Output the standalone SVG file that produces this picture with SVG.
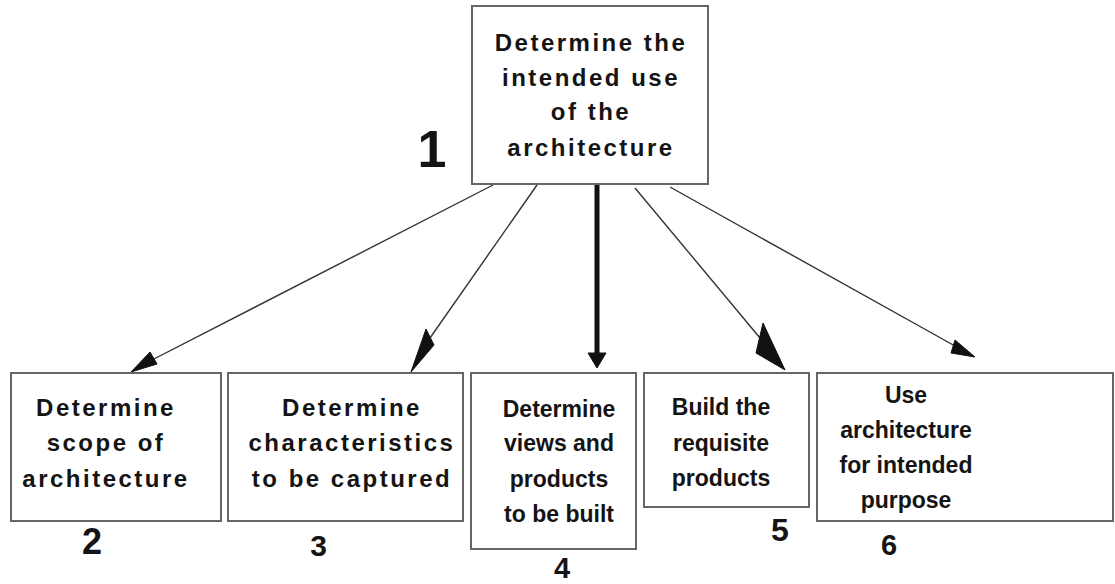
<svg xmlns="http://www.w3.org/2000/svg" width="1115" height="584" viewBox="0 0 1115 584">
  <style>
    .box { fill: #ffffff; stroke: #666666; stroke-width: 2; }
    .t { font-family: "Liberation Sans", Arial, sans-serif; font-weight: bold; font-size: 23px; fill: #141414; text-anchor: middle; }
    .wide { font-size: 24px; letter-spacing: 2.5px; }
    .num { font-family: "Liberation Sans", Arial, sans-serif; font-weight: bold; fill: #141414; text-anchor: middle; }
    .ln { stroke: #333333; stroke-width: 1.4; fill: none; }
    .thick { stroke: #111111; stroke-width: 5; fill: none; }
    .head { fill: #111111; stroke: #111111; stroke-width: 1; stroke-linejoin: round; }
  </style>
  <rect width="1115" height="584" fill="#ffffff"/>

  <g id="connectors">
    <line class="ln" x1="493" y1="185" x2="152" y2="360"/>
    <polygon class="head" points="131,372 150,352 157,364"/>
    <line class="ln" x1="537" y1="185" x2="430" y2="338"/>
    <polygon class="head" points="411,372 426,329 434,345"/>
    <line class="thick" x1="597" y1="184" x2="597" y2="354"/>
    <polygon class="head" points="588,353 606,353 597,368"/>
    <line class="ln" x1="635" y1="188" x2="760" y2="338"/>
    <polygon class="head" points="785,370 763,323 756,353"/>
    <line class="ln" x1="670" y1="187" x2="955" y2="346"/>
    <polygon class="head" points="975,357 955,340 951,353"/>
  </g>

  <g id="node1">
    <rect class="box" x="472" y="6" width="236" height="178"/>
    <text class="t wide" x="591" y="51">Determine the</text>
    <text class="t wide" x="591" y="86">intended use</text>
    <text class="t wide" x="591" y="120">of the</text>
    <text class="t wide" x="591" y="156">architecture</text>
    <text class="num" x="432" y="167" font-size="52">1</text>
  </g>

  <g id="node2">
    <rect class="box" x="11" y="373" width="210" height="148"/>
    <text class="t wide" x="106" y="416">Determine</text>
    <text class="t wide" x="106" y="451">scope of</text>
    <text class="t wide" x="106" y="487">architecture</text>
    <text class="num" x="92" y="554" font-size="36">2</text>
  </g>

  <g id="node3">
    <rect class="box" x="228" y="373" width="235" height="148"/>
    <text class="t wide" x="352" y="416">Determine</text>
    <text class="t wide" x="352" y="451">characteristics</text>
    <text class="t wide" x="352" y="487">to be captured</text>
    <text class="num" x="318.5" y="556" font-size="30">3</text>
  </g>

  <g id="node4">
    <rect class="box" x="471" y="373" width="165" height="176"/>
    <text class="t" x="559" y="417">Determine</text>
    <text class="t" x="559" y="451">views and</text>
    <text class="t" x="559" y="487">products</text>
    <text class="t" x="559" y="522">to be built</text>
    <text class="num" x="562" y="578" font-size="29">4</text>
  </g>

  <g id="node5">
    <rect class="box" x="644" y="373" width="165" height="134"/>
    <text class="t" x="721" y="415">Build the</text>
    <text class="t" x="721" y="451">requisite</text>
    <text class="t" x="721" y="486">products</text>
    <text class="num" x="780" y="541" font-size="32">5</text>
  </g>

  <g id="node6">
    <rect class="box" x="817" y="373" width="296" height="148"/>
    <text class="t" x="906" y="403">Use</text>
    <text class="t" x="906" y="438">architecture</text>
    <text class="t" x="906" y="473">for intended</text>
    <text class="t" x="906" y="508">purpose</text>
    <text class="num" x="889" y="555" font-size="29">6</text>
  </g>
</svg>
